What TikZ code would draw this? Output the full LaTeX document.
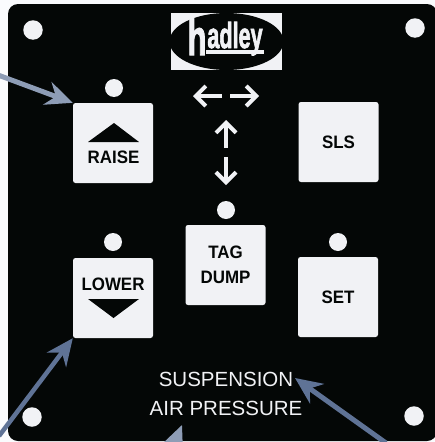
\documentclass[tikz,border=0pt]{standalone}
\usepackage{fontspec}
\setmainfont{Liberation Sans}
\newfontfamily\keyfont[UprightFont=* Bold,FakeStretch=0.94]{Liberation Sans}
\newfontfamily\logofont[UprightFont=* Bold,FakeBold=2.5]{Liberation Sans}
\usetikzlibrary{arrows.meta}
\definecolor{panel}{HTML}{040706}
\definecolor{keyface}{HTML}{F1F2F5}
\definecolor{paper}{HTML}{FAFBFD}
\definecolor{callA}{HTML}{8E9DB6}
\definecolor{callB}{HTML}{5F7396}
\tikzset{
  keybtn/.style={draw=none,fill=keyface,rounded corners=2.5pt,minimum width=80pt,minimum height=80pt,inner sep=0pt,font=\keyfont\fontsize{18}{25}\selectfont,text=panel,align=center},
  keylabel/.style={inner sep=0pt,font=\keyfont\fontsize{18}{20}\selectfont,text=panel},
  hole/.style={circle,fill=keyface,draw=none,minimum size=19.5pt,inner sep=0pt},
  led/.style={circle,fill=keyface,draw=none,minimum size=18pt,inner sep=0pt},
  legend/.style={inner sep=0pt,text=keyface,font=\fontsize{20.5}{24}\selectfont},
  dirarrow/.style={draw=keyface,line width=4pt,-{Straight Barb[length=10pt,width=20pt,line width=4pt]}},
  callout/.style={line width=5pt,-{Stealth[length=27pt,width=24pt,inset=9pt]}},
  logoword/.style={inner sep=0pt,text=keyface,font=\logofont}
}
\begin{document}
\begin{tikzpicture}[x=1pt,y=-1pt]
\useasboundingbox (0,0) rectangle (435,442);
\fill[paper] (0,0) rectangle (435,442);
\fill[panel,rounded corners=10pt] (8,4) rectangle (437,441);
% logo
\begin{scope}
\clip (171,13) rectangle (282,70);
\fill[keyface] (171,13) rectangle (282,70);
\fill[panel] (226.5,41.5) ellipse [x radius=57, y radius=28.5];
\end{scope}
\node[logoword,anchor=base,xscale=.62] (logoh) at (197,55) {\fontsize{50}{50}\selectfont h};
\node[logoword,anchor=base,xscale=.6] (logorest) at (235,48) {\fontsize{36}{36}\selectfont adley};
\fill[keyface] (206,50) rectangle (264,54);
% holes
\node[hole] (h1) at (33,30) {};
\node[hole] (h2) at (415,28) {};
\node[hole] (h3) at (32,417) {};
\node[hole] (h4) at (414,416) {};
% leds
\node[led] (l1) at (114,88) {};
\node[led] (l2) at (226,210) {};
\node[led] (l3) at (113,242) {};
\node[led] (l4) at (338,242) {};
% keys
\node[keybtn] (raise) at (113,143) {};
\node[keybtn] (sls) at (338.5,142) {SLS};
\node[keybtn] (lower) at (113,298) {};
\node[keybtn] (tag) at (225.5,265) {TAG\\DUMP};
\node[keybtn] (set) at (338,297) {SET};
\node[keylabel] (raisetxt) at (113.5,157) {RAISE};
\node[keylabel] (lowertxt) at (113,284) {LOWER};
\fill[panel] (114,123) -- (139,142) -- (88,142) -- cycle;
\fill[panel] (88,299) -- (139,299) -- (113.5,318) -- cycle;
% direction arrows
\coordinate (la) at (222,96); \coordinate (lb) at (193,96);
\coordinate (ra) at (230,96); \coordinate (rb) at (259,96);
\coordinate (ua) at (226,148); \coordinate (ub) at (226,120);
\coordinate (da) at (226,157); \coordinate (db) at (226,185);
\draw[dirarrow] (la) -- (lb);
\draw[dirarrow] (ra) -- (rb);
\draw[dirarrow] (ua) -- (ub);
\draw[dirarrow] (da) -- (db);
% legend
\node[legend] (susp) at (226,379) {SUSPENSION};
\node[legend] (air) at (226,408) {AIR PRESSURE};
% callouts
\coordinate (c1) at (-2,75);
\coordinate (c2) at (-1,436);
\coordinate (c3) at (386,443);
\coordinate (c4) at (171,452);
\coordinate (t3) at (295,378);
\coordinate (t4) at (182,425);
\draw[callout,draw=callA,fill=callA] (c1) -- (raise.north west);
\draw[callout,draw=callB,fill=callB,line width=4.5pt] (c2) -- (lower.south west);
\draw[callout,draw=callB,fill=callB] (c3) -- (t3);
\draw[callout,draw=callA,fill=callA] (c4) -- (t4);
\end{tikzpicture}
\end{document}
